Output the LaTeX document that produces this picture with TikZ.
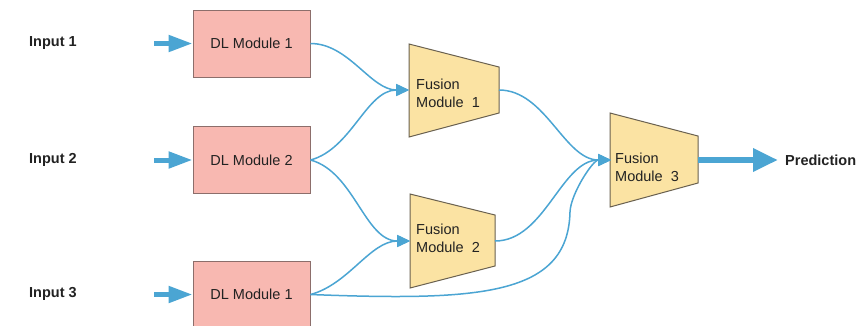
\documentclass[tikz,border=0pt]{standalone}
\usepackage{fontspec}
\setmainfont{Liberation Sans}
\usetikzlibrary{arrows.meta}
\definecolor{dlfill}{HTML}{F8B8B1}
\definecolor{dlline}{HTML}{8C6E6B}
\definecolor{fufill}{HTML}{FBE3A3}
\definecolor{fuline}{HTML}{6A6150}
\definecolor{flow}{HTML}{4BA5D3}
\definecolor{ink}{HTML}{222222}
\tikzset{
  dlbox/.style={draw=dlline, fill=dlfill, line width=1pt, minimum width=117pt, minimum height=67pt,
    inner sep=0pt, text=ink, font=\fontsize{14.5}{17}\selectfont},
  fusebody/.style={draw=fuline, fill=fufill, line width=1pt, line join=miter},
  fusetext/.style={anchor=west, align=left, inner sep=0pt, text=ink, font=\fontsize{14.5}{18}\selectfont},
  inlabel/.style={anchor=west, inner sep=0pt, text=ink, font=\bfseries\fontsize{14.5}{17}\selectfont},
  feed/.style={draw=flow, line width=5pt, -{Triangle[length=24pt,width=16pt]}},
  link/.style={draw=flow, line width=1.5pt, -{Triangle[length=13pt,width=12pt]}},
  plain/.style={draw=flow, line width=1.5pt},
}
\begin{document}
\begin{tikzpicture}[x=1pt,y=-1pt]
\useasboundingbox (0,0) rectangle (856,325);
\fill[white] (0,0) rectangle (856,325);

% deep-learning modules
\node[dlbox] (dl1) at (251.5,43.5) {DL Module 1};
\node[dlbox] (dl2) at (251.5,160) {DL Module 2};
\node[dlbox] (dl3) at (251.5,294.5) {DL Module 1};

% inputs
\node[inlabel] (in1) at (29,43) {Input 1};
\node[inlabel] (in2) at (29,160) {Input 2};
\node[inlabel] (in3) at (29,294) {Input 3};
\coordinate (s1) at (154,43.5);
\coordinate (s2) at (154,160);
\coordinate (s3) at (154,294.5);
\draw[feed] (s1) -- (dl1.west);
\draw[feed] (s2) -- (dl2.west);
\draw[feed] (s3) -- (dl3.west);

% fusion modules (trapezoids narrowing to the right)
\draw[fusebody] (409,44) -- (499,67) -- (499,113) -- (409,137) -- cycle;
\draw[fusebody] (410,194) -- (495,215) -- (495,266) -- (410,288) -- cycle;
\draw[fusebody] (610,113) -- (698,136) -- (698,183) -- (610,207) -- cycle;
\coordinate (f1w) at (409,90);
\coordinate (f1e) at (499,90);
\coordinate (f2w) at (410,241);
\coordinate (f2e) at (495,241);
\coordinate (f3w) at (611,160);
\coordinate (f3e) at (698,160);
\node[fusetext] (t1) at (416,93) {Fusion\\Module\ \ 1};
\node[fusetext] (t2) at (416,238) {Fusion\\Module\ \ 2};
\node[fusetext] (t3) at (615,167) {Fusion\\Module\ \ 3};

% connections between modules
\draw[link] (dl1.east) to[out=0,in=180,looseness=0.9] (f1w);
\draw[link] (dl2.east) to[out=15,in=180,looseness=0.9] (f1w);
\draw[link] (dl2.east) to[out=-15,in=180,looseness=0.9] (f2w);
\draw[link] (dl3.east) to[out=15,in=180,looseness=0.9] (f2w);
\draw[link] (f1e) to[out=0,in=180,looseness=0.9] (f3w);
\draw[link] (f2e) to[out=0,in=180,looseness=0.9] (f3w);
\coordinate (bend) at (570,212);
\draw[plain] (dl3.east) .. controls (480,301) and (568,296) .. (bend);
\draw[link] (bend) to[out=88,in=180,looseness=0.7] (f3w);

% output
\node[inlabel] (pred) at (785,160) {Prediction};
\draw[draw=flow, line width=6.5pt, -{Triangle[length=25pt,width=22pt]}] (f3e) -- (pred.west -| 778,0);
\end{tikzpicture}
\end{document}
